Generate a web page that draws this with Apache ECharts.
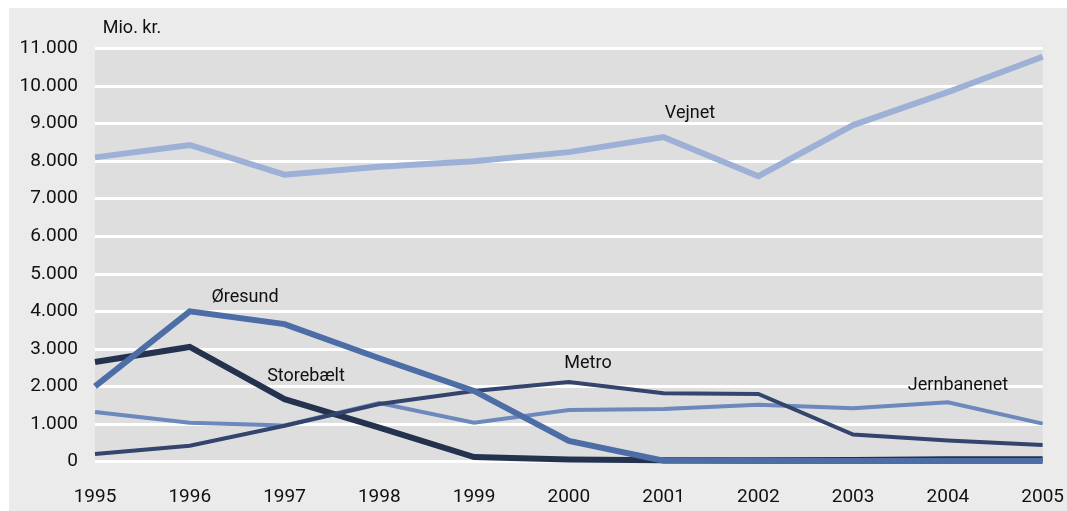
<!DOCTYPE html>
<html><head><meta charset="utf-8">
<script src="https://cdn.jsdelivr.net/npm/echarts@6/dist/echarts.min.js"></script>
<style>
html,body{margin:0;padding:0;background:#fff;}
#c{position:absolute;left:9px;top:8px;width:1058px;height:503px;}
</style></head>
<body><div id="c"></div>
<script>
const years = ['1995','1996','1997','1998','1999','2000','2001','2002','2003','2004','2005'];
const vejnet      = [8100, 8430, 7640, 7850, 8000, 8240, 8640, 7600, 8960, 9840, 10780];
const oresund     = [2000, 4000, 3660, 2750, 1880, 550, 20, 10, 10, 10, 10];
const storebaelt  = [2650, 3050, 1660, 900, 120, 50, 30, 30, 40, 60, 60];
const metro       = [200, 420, 950, 1530, 1880, 2120, 1820, 1800, 720, 560, 440];
const jernbanenet = [1320, 1030, 960, 1560, 1030, 1370, 1400, 1510, 1420, 1580, 1010];
const yTicks = [0,1000,2000,3000,4000,5000,6000,7000,8000,9000,10000,11000];

const FONT = "Roboto,'Liberation Sans',sans-serif";
const chart = echarts.init(document.getElementById('c'));
function fmt(v){ return v===0 ? '0' : String(v).replace(/\B(?=(\d{3})+(?!\d))/g,'.'); }
function s(name, data, color, width, z){
  return {name, type:'line', data, symbol:'none', z, lineStyle:{color, width, join:'miter'}, itemStyle:{color}, animation:false};
}
function lbl(text, x, y){
  return {type:'text', z:100, x:x-9, y:y-8, style:{text, fontSize:18, fontFamily:FONT, fill:'#111', textAlign:'center', textVerticalAlign:'middle'}};
}
chart.setOption({
  backgroundColor:'#ebebeb',
  animation:false,
  grid:{left:86, right:21.5, top:40.5, bottom:49.5, show:true, backgroundColor:'#dedede', borderWidth:0},
  xAxis:{type:'category', data:years, boundaryGap:false,
    axisLine:{show:false}, axisTick:{show:false}, splitLine:{show:false},
    axisLabel:{color:'#111', fontSize:19, fontFamily:FONT, margin:26}},
  yAxis:{type:'value', min:yTicks[0], max:yTicks[yTicks.length-1], interval:1000,
    axisLine:{show:false}, axisTick:{show:false},
    splitLine:{lineStyle:{color:'#ffffff', width:3}},
    axisLabel:{color:'#111', fontSize:19, fontFamily:FONT, margin:17, formatter:fmt}},
  series:[
    s('Jernbanenet', jernbanenet, '#6c88bd', 4, 2),
    s('Storebælt', storebaelt, '#24324e', 6, 3),
    s('Metro', metro, '#33456c', 4, 4),
    s('Øresund', oresund, '#4d6da7', 6, 5),
    s('Vejnet', vejnet, '#9db0d5', 6, 6)
  ],
  graphic:[
    lbl('Mio. kr.', 132, 28),
    lbl('Vejnet', 690, 113),
    lbl('Øresund', 245, 297),
    lbl('Storebælt', 306, 376),
    lbl('Metro', 588, 363),
    lbl('Jernbanenet', 958, 385)
  ]
});
</script></body></html>
